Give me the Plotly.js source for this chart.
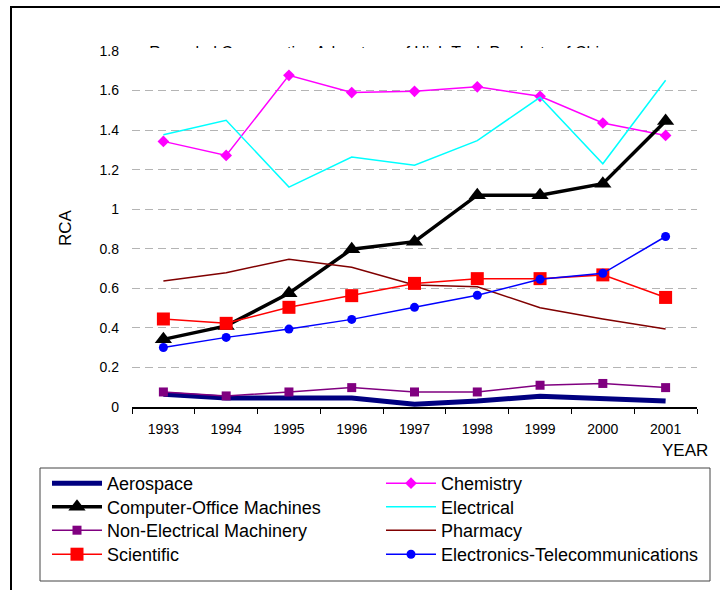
<!DOCTYPE html>
<html>
<head>
<meta charset="utf-8">
<script src="https://cdn.plot.ly/plotly-3.0.1.min.js"></script>
<style>html,body{margin:0;padding:0;background:#fff;}#chart{width:720px;height:590px;}</style>
</head>
<body>
<div id="chart"></div>
<script>
// ---- data ----
var years = ['1993','1994','1995','1996','1997','1998','1999','2000','2001'];
var aerospace   = [0.064, 0.046, 0.046, 0.046, 0.014, 0.030, 0.054, 0.039, 0.030];
var chemistry   = [1.343, 1.272, 1.677, 1.590, 1.596, 1.619, 1.571, 1.436, 1.373];
var computer    = [0.342, 0.410, 0.575, 0.798, 0.836, 1.071, 1.071, 1.129, 1.446];
var electrical  = [1.377, 1.450, 1.112, 1.264, 1.223, 1.347, 1.566, 1.230, 1.652];
var nonElec     = [0.076, 0.056, 0.076, 0.098, 0.076, 0.076, 0.110, 0.119, 0.098];
var pharmacy    = [0.637, 0.679, 0.747, 0.707, 0.617, 0.608, 0.502, 0.445, 0.394];
var scientific  = [0.445, 0.423, 0.504, 0.563, 0.625, 0.649, 0.649, 0.668, 0.554];
var electronics = [0.301, 0.352, 0.394, 0.443, 0.504, 0.565, 0.646, 0.676, 0.862];
var seriesNames = ['Aerospace','Chemistry','Computer-Office Machines','Electrical',
                   'Non-Electrical Machinery','Pharmacy','Scientific','Electronics-Telecommunications'];
var yTickVals = [0, 0.2, 0.4, 0.6, 0.8, 1, 1.2, 1.4, 1.6, 1.8];
var titleText = 'Revealed Comparative Advantage of High Tech Products of China';

// ---- geometry helpers ----
var W = 720, H = 590;
var M = {l: 132, r: 23, t: 51, b: 183, autoexpand: false};
var PW = W - M.l - M.r, PH = H - M.t - M.b;
function px(x) { return (x - M.l) / PW; }
function py(y) { return (H - M.b - y) / PH; }

var FONT = 'Liberation Sans, Arial, sans-serif';

var traces = [
  {name: seriesNames[0], y: aerospace, mode: 'lines',
   line: {color: '#000080', width: 5}},
  {name: seriesNames[1], y: chemistry, mode: 'lines+markers',
   line: {color: '#FF00FF', width: 1.5}, marker: {symbol: 'diamond', size: 9, color: '#FF00FF'}},
  {name: seriesNames[2], y: computer, mode: 'lines+markers',
   line: {color: '#000000', width: 3.5}, marker: {symbol: 'triangle-up', size: 15, color: '#000000'}},
  {name: seriesNames[3], y: electrical, mode: 'lines',
   line: {color: '#00FFFF', width: 1.5}},
  {name: seriesNames[4], y: nonElec, mode: 'lines+markers',
   line: {color: '#800080', width: 1.5}, marker: {symbol: 'square', size: 9, color: '#800080'}},
  {name: seriesNames[5], y: pharmacy, mode: 'lines',
   line: {color: '#800000', width: 1.5}},
  {name: seriesNames[6], y: scientific, mode: 'lines+markers',
   line: {color: '#FF0000', width: 1.5}, marker: {symbol: 'square', size: 13, color: '#FF0000'}},
  {name: seriesNames[7], y: electronics, mode: 'lines+markers',
   line: {color: '#0000FF', width: 1.5}, marker: {symbol: 'circle', size: 9, color: '#0000FF'}}
];

// legend layout: two columns, four rows (row-major order)
var colX = [47, 381];
var rowCenterY = [484, 507.5, 531, 555];

function legendAt(xPix, yPix) {
  return {
    orientation: 'v', x: px(xPix), y: py(yPix), xanchor: 'left', yanchor: 'top',
    itemwidth: 50, bgcolor: 'rgba(0,0,0,0)', borderwidth: 0,
    font: {size: 18, family: FONT, color: '#000000'},
    tracegroupgap: 0, traceorder: 'normal'
  };
}

var layout = {
  width: W, height: H,
  margin: M,
  paper_bgcolor: '#ffffff', plot_bgcolor: '#ffffff',
  font: {family: FONT, color: '#000000', size: 14},
  showlegend: true,
  xaxis: {
    type: 'category', range: [-0.5, 8.5], fixedrange: true,
    showline: true, linecolor: '#000000', linewidth: 1.5,
    ticks: 'outside', ticklen: 5, tickcolor: '#000000', tickwidth: 1,
    tickson: 'boundaries', showgrid: false, zeroline: false,
    tickfont: {size: 14, family: FONT, color: '#000000'},
    ticklabelstandoff: 9
  },
  yaxis: {
    range: [0, 1.8], fixedrange: true,
    tickmode: 'array', tickvals: yTickVals,
    ticktext: yTickVals.map(function (v) { return String(v); }),
    showline: false, ticks: '', zeroline: false,
    showgrid: true, gridcolor: '#b4b4b4', gridwidth: 1, griddash: '8px,5px',
    tickfont: {size: 14, family: FONT, color: '#000000'},
    ticklabelstandoff: 12
  },
  shapes: [
    // title holder (drawn below, then partly covered)
    {type: 'rect', xref: 'paper', yref: 'paper', layer: 'below',
     x0: px(130), x1: px(636), y0: py(66), y1: py(34),
     line: {width: 0}, fillcolor: 'rgba(0,0,0,0)',
     label: {text: titleText, textposition: 'middle center',
             font: {size: 16, family: FONT, color: '#000000'}}},
    // white cover that clips the lower part of the title
    {type: 'rect', xref: 'paper', yref: 'paper', layer: 'below',
     x0: px(20), x1: px(715), y0: py(90), y1: py(48),
     line: {width: 0}, fillcolor: '#ffffff'},
    // outer frame
    {type: 'rect', xref: 'paper', yref: 'paper', layer: 'above',
     x0: px(11), x1: px(760), y0: py(640), y1: py(7),
     line: {color: '#000000', width: 2}, fillcolor: 'rgba(0,0,0,0)'},
    // legend box
    {type: 'rect', xref: 'paper', yref: 'paper', layer: 'above',
     x0: px(40), x1: px(710), y0: py(581), y1: py(468),
     line: {color: '#444444', width: 1}, fillcolor: 'rgba(0,0,0,0)'}
  ],
  annotations: [
    {xref: 'paper', yref: 'paper', x: px(65), y: py(228), xanchor: 'center', yanchor: 'middle',
     text: 'RCA', textangle: -90, showarrow: false, font: {size: 17, family: FONT, color: '#000000'}},
    {xref: 'paper', yref: 'paper', x: px(710), y: py(450), xanchor: 'right', yanchor: 'middle',
     text: 'YEAR', showarrow: false, font: {size: 17, family: FONT, color: '#000000'}}
  ]
};

traces.forEach(function (t, i) {
  t.x = years; t.type = 'scatter';
  var key = i === 0 ? 'legend' : 'legend' + (i + 1);
  t.legend = key;
  var col = i % 2, row = Math.floor(i / 2);
  layout[key] = legendAt(colX[col], rowCenterY[row] - 19);
});

Plotly.newPlot('chart', traces, layout, {displayModeBar: false, staticPlot: true});
</script>
</body>
</html>
